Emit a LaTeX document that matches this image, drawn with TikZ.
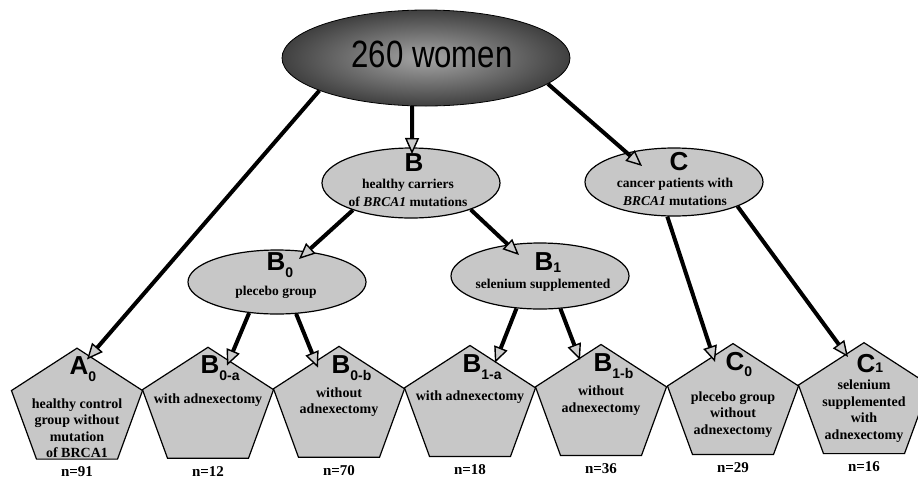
\documentclass[tikz,border=0pt]{standalone}
\usepackage{fontspec}
\setmainfont{Liberation Serif}
\setsansfont{Liberation Sans}
\usepackage{graphicx}
\usetikzlibrary{shapes.geometric,arrows.meta}

\newcommand{\grpidx}[2][7pt]{\rlap{\raisebox{-#1}{\fontsize{14}{14}\selectfont #2}}}

\begin{document}
\begin{tikzpicture}[x=1pt,y=1pt,
  oval/.style={ellipse,draw,line width=1.2pt,fill=black!22,inner sep=0pt,minimum width=178pt},
  pent/.style={regular polygon,regular polygon sides=5,minimum size=137.8pt,inner sep=0pt,
    draw,line width=1.2pt,fill=black!22,yscale=0.89,transform shape},
  grp/.style={font=\sffamily\bfseries\fontsize{26}{26}\selectfont,inner sep=0pt},
  desc/.style={font=\bfseries\fontsize{14}{16.5}\selectfont,align=center,inner sep=0pt},
  odesc/.style={font=\bfseries\fontsize{13.5}{18}\selectfont,align=center,inner sep=0pt},
  count/.style={font=\bfseries\fontsize{15}{15}\selectfont,inner sep=0pt},
  arr/.style={line width=4pt,-{Triangle[length=16pt,width=14pt,fill=black!20,line width=1.4pt]}}]
\useasboundingbox (0,0) rectangle (918,-480);

% all women
\node[ellipse,draw,line width=0.8pt,inner sep=0pt,minimum width=288pt,minimum height=96pt,
  inner color=black!35,outer color=black!75] (all) at (426,-58) {};
\node[font=\sffamily\fontsize{38}{38}\selectfont,inner sep=0pt] (all-t) at (432,-54) {\scalebox{0.82}[1]{260 women}};

% carriers and patients
\node[oval,minimum height=70pt] (B) at (411,-183) {};
\node[grp] (B-l) at (414,-163) {B};
\node[odesc] (B-t) at (408,-193) {healthy carriers\\of \textit{BRCA1} mutations};

\node[oval,minimum height=68pt] (C) at (674,-182) {};
\node[grp] (C-l) at (679,-162) {C};
\node[odesc] (C-t) at (675,-192) {cancer patients with\\\textit{BRCA1} mutations};

\node[oval,minimum height=64pt] (B0) at (277,-282) {};
\node[grp] (B0-l) at (276,-265) {B\grpidx{0}};
\node[odesc] (B0-t) at (276,-292) {plecebo group};

\node[oval,minimum height=66pt] (B1) at (540,-276) {};
\node[grp] (B1-l) at (544,-263) {B\grpidx[2pt]{1}};
\node[odesc] (B1-t) at (543,-285) {selenium supplemented};

% groups
\foreach \nm/\x/\y/\ltr/\ix/\lw/\dy/\txt/\cnt in {
  A0/77/-409.5/A/0/7/-18.5/{healthy control\\group without\\mutation\\of BRCA1}/91,
  B0a/208/-408.6/B/0-a/7/8.6/{with adnexectomy}/12,
  B0b/339/-407.7/B/0-b/7/5.7/{without\\adnexectomy}/70,
  B1a/470/-406.8/B/1-a/7/10/{with adnexectomy}/18,
  B1b/601/-405.8/B/1-b/7/5/{without\\adnexectomy}/36,
  C0/733/-404.9/C/0/6/-9.6/{plecebo group\\without\\adnexectomy}/29,
  C1/864/-404/C/1/0/-7/{selenium\\supplemented\\with\\adnexectomy}/16}
{
  \node[pent] (\nm) at (\x,\y) {};
  \node[grp,xshift=2pt,yshift=40pt] (\nm-l) at (\nm) {\ltr\grpidx[\lw pt]{\ix}};
  \node[desc,yshift=\dy pt] (\nm-t) at (\nm) {\txt};
  \node[count,yshift=-62.5pt] (\nm-n) at (\nm) {n=\cnt};
}

\draw[arr] (all.197) -- ([xshift=10pt,yshift=50pt]A0.center);
\draw[arr] (all.254) -- ([xshift=1pt,yshift=29pt]B.center);
\draw[arr] (all.348) -- ([xshift=-32pt,yshift=16pt]C.center);
\draw[arr] (B.205) -- ([xshift=22pt,yshift=23pt]B0.center);
\draw[arr] (B.336) -- ([xshift=-21pt,yshift=21pt]B1.center);
\draw[arr] (B0.228) -- ([xshift=19pt,yshift=43pt]B0a.center);
\draw[arr] (B0.301) -- ([xshift=-21pt,yshift=40pt]B0b.center);
\draw[arr] (B1.234) -- ([xshift=25pt,yshift=44pt]B1a.center);
\draw[arr] (B1.302) -- ([xshift=-21pt,yshift=46pt]B1b.center);
\draw[arr] (C.259) -- ([xshift=-18pt,yshift=43pt]C0.center);
\draw[arr] (C.339) -- ([xshift=-16pt,yshift=47pt]C1.center);
\end{tikzpicture}
\end{document}
